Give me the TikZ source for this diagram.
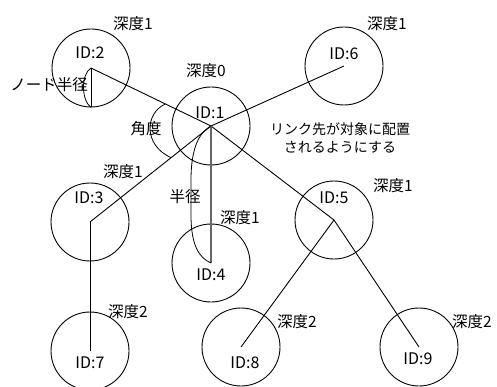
\documentclass[tikz,border=0pt]{standalone}
\usepackage{fontspec}
\usetikzlibrary{calc}
\newfontfamily\jp{Noto Sans CJK JP}
\begin{document}
\begin{tikzpicture}[x=1pt,y=-1pt,
  nd/.style={circle,draw,line width=0.9pt,minimum size=78pt,inner sep=0pt},
  lbl/.style={font=\jp\fontsize{15.5}{17}\selectfont,inner sep=0pt},
  idl/.style={font=\jp\fontsize{16}{17}\selectfont,inner sep=0pt},
  note/.style={font=\jp\fontsize{14}{18}\selectfont,inner sep=0pt,align=center},
  link/.style={line width=0.9pt},
  radline/.style={line width=1.1pt,draw=black!60}]
\useasboundingbox (0,0) rectangle (497,387);
% nodes
\node[nd] (n1) at (211,126) {};
\node[nd] (n2) at (91,68) {};
\node[nd] (n3) at (90,222) {};
\node[nd] (n4) at (211,263) {};
\node[nd] (n5) at (334,220) {};
\node[nd] (n6) at (344,66) {};
\node[nd] (n7) at (90,351) {};
\node[nd] (n8) at (241,347) {};
\node[nd] (n9) at (419,347) {};
% ID labels
\node[idl] (i1) at (210,113) {ID:1};
\node[idl] (i2) at (90,53) {ID:2};
\node[idl] (i3) at (89,198) {ID:3};
\node[idl] (i4) at (211,275) {ID:4};
\node[idl] (i5) at (334,198) {ID:5};
\node[idl] (i6) at (344,54) {ID:6};
\node[idl] (i7) at (90,363) {ID:7};
\node[idl] (i8) at (245,363) {ID:8};
\node[idl] (i9) at (418,359) {ID:9};
% depth labels
\node[lbl] (d2) at (133,24) {深度1};
\node[lbl] (d1) at (206,71) {深度0};
\node[lbl] (d6) at (387,24) {深度1};
\node[lbl] (d3) at (123,172) {深度1};
\node[lbl] (d4) at (240,218) {深度1};
\node[lbl] (d5) at (393,186) {深度1};
\node[lbl] (d7) at (128,312) {深度2};
\node[lbl] (d8) at (297,322) {深度2};
\node[lbl] (d9) at (472,322) {深度2};
% annotations
\node[lbl] (tnr) at (49,85) {ノード半径};
\node[lbl] (tang) at (146,129) {角度};
\node[lbl] (trad) at (185,197) {半径};
\node[note] (tnote) at (340,138) {リンク先が対象に配置\\されるようにする};
% connectors
\draw[link] (n1.center) -- (n2.center);
\draw[link] (n1.center) -- (n6.center);
\draw[link] (n1.center) -- (n3.center);
\draw[link] (n1.center) -- (n5.center);
\draw[link] (n3.center) -- (n7.center);
\draw[link] (n5.center) -- (n8.center);
\draw[link] (n5.center) -- (n9.center);
\draw[radline] (n1.center) -- (n4.center);
% node radius
\draw[link] (n2.center) -- (n2.south);
\draw[line width=0.8pt] (n2.center) .. controls (81,74) and (81,100) .. (n2.south);
% angle arc
\coordinate (a1) at ($(n1.center)!0.38!(n2.center)$);
\coordinate (a2) at ($(n1.center)!0.33!(n3.center)$);
\draw[line width=0.8pt] (a1) .. controls (145,113) and (143,145) .. (a2);
% radius arc
\draw[line width=0.8pt] (n1.center) .. controls (196,134) and (191,155) .. (191,180) -- (191,215) .. controls (191,245) and (199,258) .. (n4.center);
\end{tikzpicture}
\end{document}
